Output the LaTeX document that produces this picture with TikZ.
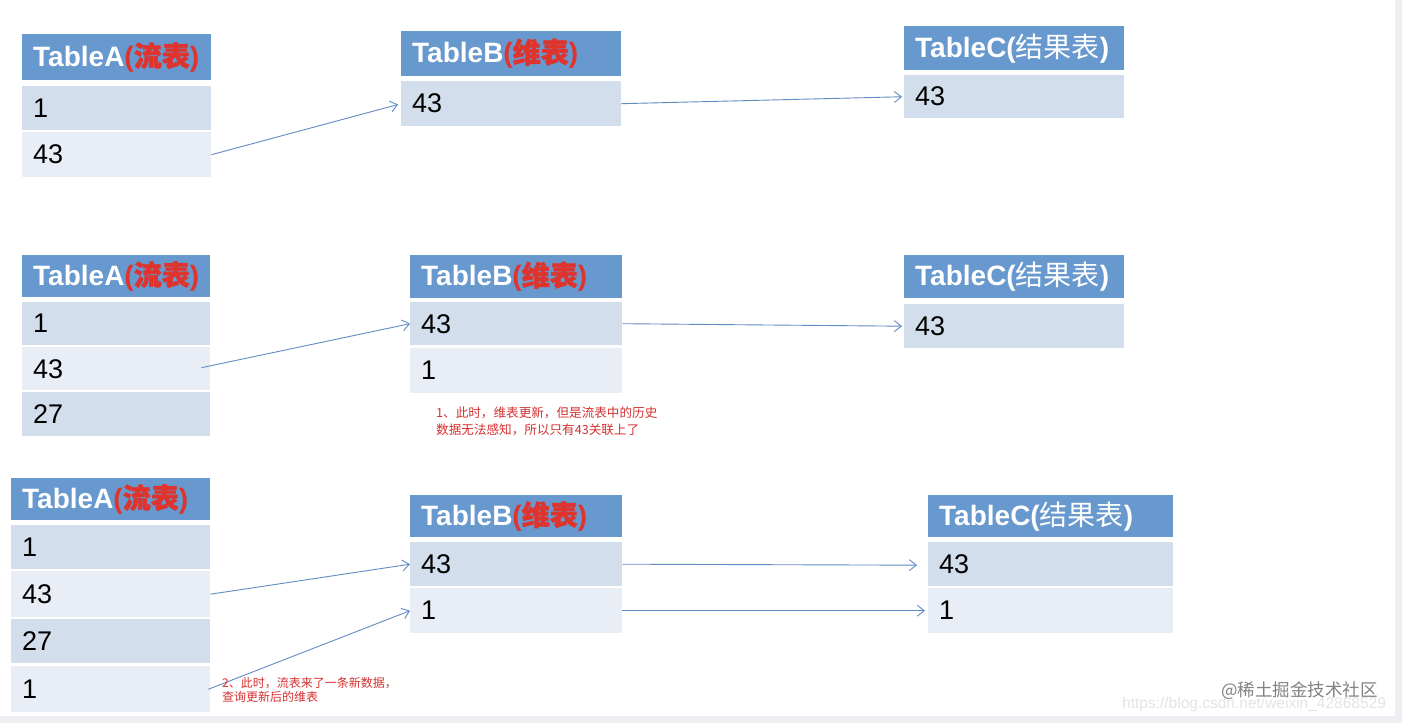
\documentclass[tikz,border=0pt]{standalone}
\usepackage{fontspec}
\setmainfont{Liberation Sans}
\newfontfamily\cjk{Noto Sans CJK SC}
\newfontfamily\cjkb{Noto Sans CJK SC}[FakeBold=1.5]
\usetikzlibrary{arrows.meta}
\definecolor{hdr}{RGB}{103,152,206}
\definecolor{bandA}{RGB}{211,222,236}
\definecolor{bandB}{RGB}{233,237,245}
\definecolor{arrowc}{RGB}{98,138,196}
\definecolor{notered}{RGB}{214,48,48}
\definecolor{hred}{RGB}{222,52,45}
\definecolor{framegray}{RGB}{238,239,242}
\tikzset{
  cell/.style={rectangle, anchor=north west, inner xsep=11pt, inner ysep=0pt, align=left,
    font=\fontsize{27}{30}\selectfont},
  hcell/.style={cell, fill=hdr, text=white, font=\fontsize{28}{31}\selectfont\bfseries},
  arr/.style={draw=arrowc, line width=0.9pt, -{Straight Barb[length=7pt,width=11pt,line width=0.9pt]}},
  note/.style={anchor=north west, inner sep=0pt, text=notered, align=left},
  wm/.style={anchor=west, inner sep=0pt}
}
\newcommand\mkcell[7]{%
  \pgfmathsetmacro\cellTW{#4-22}%
  \node[#6, minimum height=#5pt, text width=\cellTW pt] (#1) at (#2,#3) {#7};}
\newcommand\HA{TableA{\color{hred}({\cjkb 流表})}}
\newcommand\HB{TableB{\color{hred}({\cjkb 维表})}}
\newcommand\HC{TableC({\cjk\mdseries 结果表})}
\begin{document}
\begin{tikzpicture}[x=1pt,y=-1pt]
\useasboundingbox (0,0) rectangle (1402,723);
\fill[framegray] (0,0) rectangle (1402,723);
\fill[white] (0,0) rectangle (1395,716);
% ---------- row 1 ----------
\mkcell{a1h}{22}{34}{189}{46}{hcell}{\HA}
\mkcell{a1a}{22}{86}{189}{44}{cell,fill=bandA}{1}
\mkcell{a1b}{22}{132}{189}{45}{cell,fill=bandB}{43}
\mkcell{b1h}{401}{31}{220}{45}{hcell}{\HB}
\mkcell{b1a}{401}{81}{220}{45}{cell,fill=bandA}{43}
\mkcell{c1h}{904}{26}{220}{44}{hcell}{\HC}
\mkcell{c1a}{904}{75}{220}{43}{cell,fill=bandA}{43}
% ---------- row 2 ----------
\mkcell{a2h}{22}{255}{188}{42}{hcell}{\HA}
\mkcell{a2a}{22}{302}{188}{43}{cell,fill=bandA}{1}
\mkcell{a2b}{22}{347}{188}{43}{cell,fill=bandB}{43}
\mkcell{a2c}{22}{392}{188}{44}{cell,fill=bandA}{27}
\mkcell{b2h}{410}{255}{212}{43}{hcell}{\HB}
\mkcell{b2a}{410}{302}{212}{43}{cell,fill=bandA}{43}
\mkcell{b2b}{410}{348}{212}{45}{cell,fill=bandB}{1}
\mkcell{c2h}{904}{255}{220}{43}{hcell}{\HC}
\mkcell{c2a}{904}{304}{220}{44}{cell,fill=bandA}{43}
% ---------- row 3 ----------
\mkcell{a3h}{11}{478}{199}{42}{hcell}{\HA}
\mkcell{a3a}{11}{525}{199}{44}{cell,fill=bandA}{1}
\mkcell{a3b}{11}{571}{199}{46}{cell,fill=bandB}{43}
\mkcell{a3c}{11}{619}{199}{44}{cell,fill=bandA}{27}
\mkcell{a3d}{11}{666}{199}{46}{cell,fill=bandB}{1}
\mkcell{b3h}{410}{495}{212}{42}{hcell}{\HB}
\mkcell{b3a}{410}{542}{212}{44}{cell,fill=bandA}{43}
\mkcell{b3b}{410}{588}{212}{45}{cell,fill=bandB}{1}
\mkcell{c3h}{928}{495}{245}{42}{hcell}{\HC}
\mkcell{c3a}{928}{542}{245}{44}{cell,fill=bandA}{43}
\mkcell{c3b}{928}{588}{245}{45}{cell,fill=bandB}{1}
% ---------- connectors ----------
\draw[arr, shorten >=3pt] (a1b.east) -- (b1a.west);
\draw[arr, shorten >=2pt] (b1a.east) -- (c1a.west);
\draw[arr] ([xshift=-9pt,yshift=1pt]a2b.east) -- (b2a.west);
\draw[arr, shorten >=2pt] (b2a.east) -- (c2a.west);
\draw[arr] (a3b.east) -- (b3a.west);
\draw[arr] ([xshift=-2pt]a3d.east) -- (b3b.west);
\draw[arr, shorten >=11pt] (b3a.east) -- ([yshift=-1pt]c3a.west);
\draw[arr, shorten >=3pt] (b3b.east) -- (c3b.west);
% ---------- notes ----------
\node[note, font=\cjk\fontsize{12.6}{16.7}\selectfont] (n1) at (436,407)
  {1、此时，维表更新，但是流表中的历史\\数据无法感知，所以只有43关联上了};
\node[note, font=\cjk\fontsize{12}{14.5}\selectfont] (n2) at (222,677)
  {2、此时，流表来了一条新数据，\\查询更新后的维表};
% ---------- watermark ----------
\node[wm, text={rgb,255:red,228;green,228;blue,230}, font=\fontsize{15.5}{18}\selectfont] (w2) at (1122,704)
  {https://blog.csdn.net/weixin\_42868529};
\node[wm, text={rgb,255:red,130;green,130;blue,130}, font=\cjk\fontsize{17.5}{20}\selectfont] (w1) at (1221,691)
  {@稀土掘金技术社区};
\end{tikzpicture}
\end{document}
